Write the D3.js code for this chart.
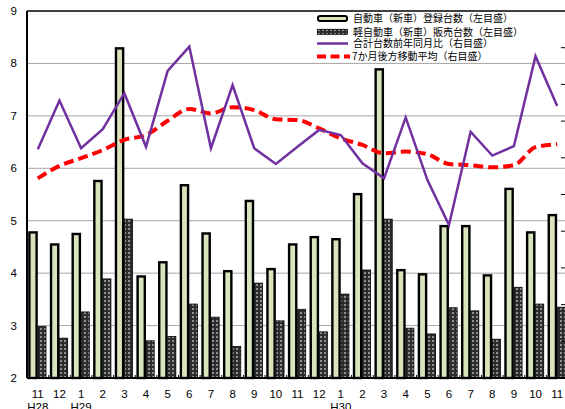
<!DOCTYPE html>
<html>
<head>
<meta charset="utf-8">
<script src="https://cdn.jsdelivr.net/npm/d3@7"></script>
<style>
  html, body { margin: 0; padding: 0; background: #fff; }
  svg { display: block; font-family: "Liberation Sans", "Noto Sans CJK JP", sans-serif; }
</style>
</head>
<body>
<div id="chart"></div>
<script>
// months H28/11 .. H30/11
const months = ["11","12","1","2","3","4","5","6","7","8","9","10","11","12","1","2","3","4","5","6","7","8","9","10","11"];
const eraLabels = ["H28","","H29","","","","","","","","","","","","H30","","","","","","","","","",""];

// left axis (10k units)
const registered = [4.80,4.57,4.77,5.78,8.31,3.96,4.23,5.70,4.78,4.06,5.40,4.10,4.57,4.71,4.67,5.53,7.91,4.08,4.00,4.92,4.92,3.98,5.63,4.80,5.13];
const kei        = [2.98,2.76,3.26,3.89,5.03,2.71,2.79,3.41,3.16,2.60,3.81,3.09,3.31,2.88,3.60,4.06,5.03,2.95,2.84,3.34,3.28,2.74,3.73,3.41,3.35];

// right axis (%)
const yoy = [112.3,125.6,112.6,117.8,127.6,113.0,133.7,140.3,112.6,129.8,112.6,108.3,113.0,117.6,116.2,108.5,104.4,121.0,104.0,91.7,117.1,110.6,113.2,137.7,124.1];
const ma7 = [104.4,107.8,109.9,112.1,114.9,116.2,120.1,123.3,122.1,123.8,123.0,120.5,120.3,118.0,115.3,113.5,111.2,111.7,111.0,108.3,108.0,107.4,108.0,112.9,113.7];

const leftTicks = [2,3,4,5,6,7,8,9];
const rightTicks = [50,60,70,80,90,100,110,120,130,140,150];

const legendItems = [
  "自動車（新車）登録台数（左目盛）",
  "軽自動車（新車）販売台数（左目盛）",
  "合計台数前年同月比（右目盛）",
  "7か月後方移動平均（右目盛）"
];

const W = 565, H = 409;
const margin = { top: 11, right: -3, bottom: 31, left: 27 };
const innerW = W - margin.left - margin.right;
const innerH = H - margin.top - margin.bottom;

const svg = d3.select("#chart").append("svg")
  .attr("width", W)
  .attr("height", H);

// pattern for kei bars
const defs = svg.append("defs");
const pat = defs.append("pattern")
  .attr("id", "hatch")
  .attr("patternUnits", "userSpaceOnUse")
  .attr("width", 4).attr("height", 4);
pat.append("rect").attr("width", 4).attr("height", 4).attr("fill", "#2b2b2b");
pat.append("path").attr("d", "M2 0.8 L3.2 2 L2 3.2 L0.8 2 Z").attr("fill", "#b8b8b8");

const g = svg.append("g").attr("transform", `translate(${margin.left},${margin.top})`);

const idx = months.map((d, i) => i);
const x = d3.scaleBand().domain(idx).range([0, innerW]).padding(0);
const yL = d3.scaleLinear().domain([2, 9]).range([innerH, 0]);
const yR = d3.scaleLinear().domain([50, 150]).range([innerH, 0]);

// gridlines
g.append("g")
  .selectAll("line")
  .data(leftTicks.slice(1, -1))
  .join("line")
  .attr("x1", 0).attr("x2", innerW)
  .attr("y1", d => yL(d)).attr("y2", d => yL(d))
  .attr("stroke", "#a6a6a6").attr("stroke-width", 1);

// bars
const bw = x.bandwidth();
g.append("g")
  .selectAll("rect")
  .data(registered)
  .join("rect")
  .attr("x", (d, i) => x(i) + 2.4)
  .attr("y", d => yL(d) + 1.2)
  .attr("width", 7.2)
  .attr("height", d => innerH - yL(d) - 1.2)
  .attr("fill", "#d8e4bc")
  .attr("stroke", "#000")
  .attr("stroke-width", 2.4);

g.append("g")
  .selectAll("rect")
  .data(kei)
  .join("rect")
  .attr("x", (d, i) => x(i) + 11)
  .attr("y", d => yL(d))
  .attr("width", 8)
  .attr("height", d => innerH - yL(d))
  .attr("fill", "url(#hatch)")
  .attr("stroke", "#000")
  .attr("stroke-width", 0.8);

// lines
const cx = i => x(i) + bw / 2;
const lineYoy = d3.line().x((d, i) => cx(i)).y(d => yR(d));
const lineMa = d3.line().x((d, i) => cx(i)).y(d => yR(d)).curve(d3.curveMonotoneX);

g.append("path")
  .datum(ma7)
  .attr("d", lineMa)
  .attr("fill", "none")
  .attr("stroke", "#ff0000")
  .attr("stroke-width", 4)
  .attr("stroke-dasharray", "10,5");

g.append("path")
  .datum(yoy)
  .attr("d", lineYoy)
  .attr("fill", "none")
  .attr("stroke", "#7030a0")
  .attr("stroke-width", 2.5)
  .attr("stroke-linejoin", "miter");

// axes frame
g.append("line").attr("x1", 0).attr("x2", innerW).attr("y1", 0).attr("y2", 0)
  .attr("stroke", "#000").attr("stroke-width", 1.5);
g.append("line").attr("x1", 0).attr("x2", innerW).attr("y1", innerH).attr("y2", innerH)
  .attr("stroke", "#000").attr("stroke-width", 2);
g.append("line").attr("x1", 0).attr("x2", 0).attr("y1", 0).attr("y2", innerH)
  .attr("stroke", "#000").attr("stroke-width", 2);

// left axis labels
g.append("g")
  .selectAll("text")
  .data(leftTicks)
  .join("text")
  .attr("x", -10)
  .attr("y", d => yL(d) + 4)
  .attr("text-anchor", "end")
  .attr("font-size", 11.5)
  .attr("fill", "#000")
  .text(d => d);

// right axis ticks (labels lie outside the picture)
g.append("g")
  .selectAll("line")
  .data(rightTicks.slice(1, -1))
  .join("line")
  .attr("x1", 534).attr("x2", 538)
  .attr("y1", d => yR(d)).attr("y2", d => yR(d))
  .attr("stroke", "#000").attr("stroke-width", 1);

// x ticks at band boundaries
g.append("g")
  .selectAll("line")
  .data(idx.slice(1))
  .join("line")
  .attr("x1", i => x(i)).attr("x2", i => x(i))
  .attr("y1", innerH).attr("y2", innerH - 3)
  .attr("stroke", "#000").attr("stroke-width", 1);

// x labels
g.append("g")
  .selectAll("text")
  .data(months)
  .join("text")
  .attr("x", (d, i) => cx(i))
  .attr("y", innerH + 19.5)
  .attr("text-anchor", "middle")
  .attr("font-size", 11.5)
  .text(d => d);

g.append("g")
  .selectAll("text")
  .data(eraLabels)
  .join("text")
  .attr("x", (d, i) => cx(i))
  .attr("y", innerH + 32.5)
  .attr("text-anchor", "middle")
  .attr("font-size", 11.5)
  .text(d => d);

// legend
const lg = svg.append("g").attr("transform", "translate(317,0)");
const rowY = [18.5, 31.8, 43.5, 56.5];
lg.append("rect").attr("x", 1).attr("y", rowY[0] - 2.5).attr("width", 29).attr("height", 5).attr("rx", 2)
  .attr("fill", "#d8e4bc").attr("stroke", "#000").attr("stroke-width", 2);
lg.append("rect").attr("x", 0.5).attr("y", rowY[1] - 2.5).attr("width", 30).attr("height", 5)
  .attr("fill", "url(#hatch)").attr("stroke", "#000").attr("stroke-width", 0.8);
lg.append("line").attr("x1", 0).attr("x2", 31).attr("y1", rowY[2]).attr("y2", rowY[2])
  .attr("stroke", "#7030a0").attr("stroke-width", 2.5);
lg.append("line").attr("x1", 0).attr("x2", 33).attr("y1", rowY[3]).attr("y2", rowY[3])
  .attr("stroke", "#ff0000").attr("stroke-width", 4).attr("stroke-dasharray", "9,4.5");
lg.selectAll("text.leg")
  .data(legendItems)
  .join("text")
  .attr("class", "leg")
  .attr("x", (d, i) => i === 3 ? 35 : 36)
  .attr("y", (d, i) => rowY[i] + 3.8)
  .attr("font-size", 10)
  .attr("font-family", "'Noto Sans CJK JP', sans-serif")
  .text(d => d);
</script>
</body>
</html>
